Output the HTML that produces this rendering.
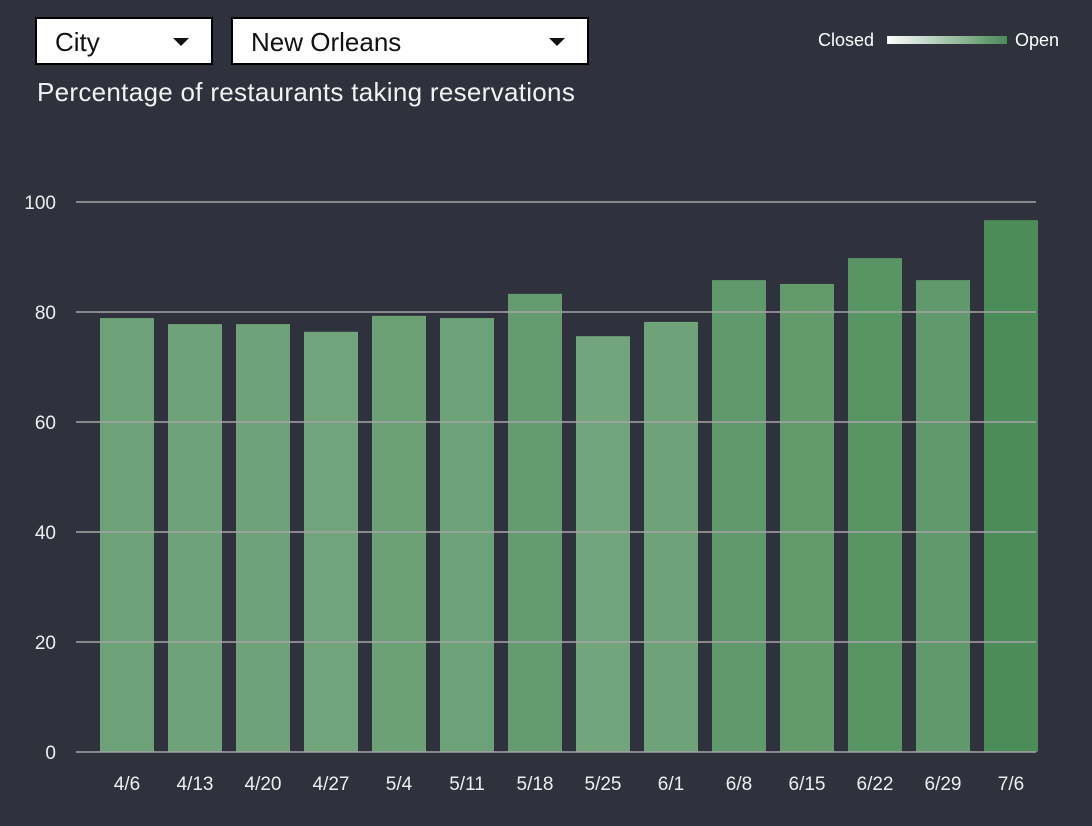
<!DOCTYPE html>
<html><head><meta charset="utf-8"><style>
body{margin:0;background:#2f323d;font-family:"Liberation Sans",sans-serif;color:#fff}
.sel{position:absolute;top:17px;height:44px;background:#fff;border:2px solid #000;color:#111;font-size:26px;line-height:46px;box-sizing:content-box}
.sel span{position:absolute;left:18px}
.sel i{position:absolute;right:22px;top:19px;width:0;height:0;border-left:8px solid transparent;border-right:8px solid transparent;border-top:8px solid #111}
</style></head><body>
<div style="position:relative;width:1092px;height:826px;overflow:hidden">
<div class="sel" style="left:35px;width:174px"><span>City</span><i></i></div>
<div class="sel" style="left:231px;width:354px"><span>New Orleans</span><i></i></div>
<div style="position:absolute;left:37px;top:77px;font-size:26px;color:#f2f2f2;letter-spacing:0.3px">Percentage of restaurants taking reservations</div>
<div style="position:absolute;left:818px;top:30px;font-size:18px">Closed</div>
<div style="position:absolute;left:887px;top:36px;width:120px;height:8px;background:linear-gradient(to right,#fff,#4a8a55)"></div>
<div style="position:absolute;left:1015px;top:30px;font-size:18px">Open</div>
<svg id="c" width="1092" height="826" style="position:absolute;left:0;top:0"></svg>
</div>
<script>
const categories=["4/6","4/13","4/20","4/27","5/4","5/11","5/18","5/25","6/1","6/8","6/15","6/22","6/29","7/6"];
const values=[78.9,77.8,77.8,76.4,79.3,78.9,83.3,75.6,78.2,85.8,85.1,89.8,85.8,96.7];
const yTicks=[0,20,40,60,80,100];
const svg=document.getElementById('c');const NS='http://www.w3.org/2000/svg';
const y=v=>752-v*5.5;const x=i=>100+i*68;const bw=54;
function col(v){const t=Math.min(1,v/100);const a=[255,255,255],b=[70,136,82];return 'rgb('+a.map((c,k)=>Math.round(c+(b[k]-c)*t)).join(',')+')';}
function mk(tag,at,txt){const e=document.createElementNS(NS,tag);for(const k in at)e.setAttribute(k,at[k]);if(txt!=null)e.textContent=txt;svg.appendChild(e);return e;}
values.forEach((v,i)=>{const r=mk('rect',{x:x(i),y:y(v),width:bw,height:y(0)-y(v),fill:col(v)});


const t=mk('text',{x:x(i)+bw/2,y:790,fill:'#eee','font-size':19,'text-anchor':'middle','font-family':'Liberation Sans, sans-serif'},categories[i]);

});
yTicks.forEach(v=>{const l=mk('line',{x1:76,x2:1036,y1:y(v),y2:y(v),stroke:'#a5a5a8','stroke-width':1.5});


const t=mk('text',{x:56,y:y(v)+7,fill:'#eee','font-size':19,'text-anchor':'end','font-family':'Liberation Sans, sans-serif'},v);

});
</script>
</body></html>
